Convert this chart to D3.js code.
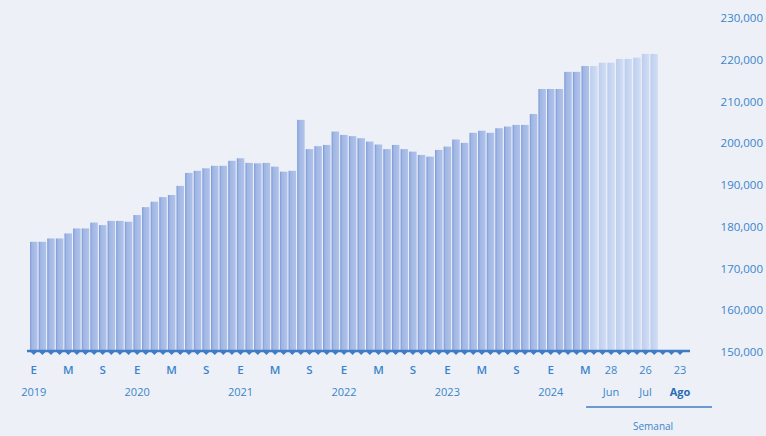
<!DOCTYPE html>
<html><head><meta charset="utf-8">
<script src="https://cdn.jsdelivr.net/npm/d3@7"></script>
<style>
html,body{margin:0;padding:0;background:#edf1f7;}
svg{display:block;font-family:"Open Sans",sans-serif;}
</style></head>
<body><svg id="c" width="766" height="436"></svg>
<script>
// Monthly series Jan 2019 - May 2024
const monthLabels = ["E","F","M","A","M","J","J","A","S","O","N","D"];
const years = [2019,2020,2021,2022,2023,2024];
const monthlyValues = [
 176400,176400,177200,177200,178400,179600,179600,181000,180400,181400,181400,181200,
 182800,184700,186000,187100,187600,189800,192900,193400,194000,194600,194600,195800,
 196400,195300,195200,195300,194400,193200,193400,205600,198600,199300,199600,202800,
 202000,201700,201200,200400,199700,198600,199600,198600,198000,197200,196800,198400,
 199200,200900,200100,202500,203000,202500,203600,204000,204400,204400,207000,213000,
 213000,213000,217100,217100,218500
];
// Weekly series (2024)
const weeks = ["14 Jun","21 Jun","28 Jun","5 Jul","12 Jul","19 Jul","26 Jul","2 Ago","9 Ago","16 Ago","23 Ago"];
const weeklyValues = [218500,219300,219300,220200,220200,220500,221400,221400,null,null,null];
const yTicks = [150000,160000,170000,180000,190000,200000,210000,220000,230000];
const monthTickLabels = ["E","M","S"];
const weekTickLabels = [{week:"28 Jun",day:"28",month:"Jun"},{week:"26 Jul",day:"26",month:"Jul"},{week:"23 Ago",day:"23",month:"Ago"}];

const monthCats = [];
years.forEach(y => monthLabels.forEach((m,i) => { if (monthCats.length < monthlyValues.length) monthCats.push({key:y+"-"+(i+1), label:m, year:y, mi:i}); }));
const data = monthCats.map((c,i)=>({key:c.key, value:monthlyValues[i], type:"m", cat:c}))
  .concat(weeks.map((w,i)=>({key:w, value:weeklyValues[i], type:"w"})));

const svg = d3.select("#c");
const x = d3.scaleBand().domain(data.map(d=>d.key)).range([29.5,684.3]).paddingInner(0.13).paddingOuter(0.06);
const y = d3.scaleLinear().domain([150000,230000]).range([352,18]);

const defs = svg.append("defs");
const g1 = defs.append("linearGradient").attr("id","gm").attr("x1","0").attr("x2","1").attr("y1","0").attr("y2","0");
g1.append("stop").attr("offset","0").attr("stop-color","#7897d6");
g1.append("stop").attr("offset","0.25").attr("stop-color","#a0b6e4");
g1.append("stop").attr("offset","1").attr("stop-color","#b0c3ea");
const g2 = defs.append("linearGradient").attr("id","gw").attr("x1","0").attr("x2","1").attr("y1","0").attr("y2","0");
g2.append("stop").attr("offset","0").attr("stop-color","#bccdee");
g2.append("stop").attr("offset","1").attr("stop-color","#d3def4");

svg.append("g").selectAll("rect").data(data.filter(d=>d.value!=null)).join("rect")
  .attr("x",d=>x(d.key)).attr("width",x.bandwidth())
  .attr("y",d=>y(d.value)).attr("height",d=>y(150000)-y(d.value)-1)
  .attr("fill",d=>d.type==="m"?"url(#gm)":"url(#gw)");

// axis
const axisG = svg.append("g").attr("transform","translate(0,351)");
axisG.append("line").attr("x1",27).attr("x2",690).attr("stroke","#3f7cc4").attr("stroke-width",2.5);
axisG.selectAll("path.tk").data(data).join("path").attr("class","tk")
  .attr("d",d=>{const cx=x(d.key)+x.bandwidth()/2; return `M${cx-3},1 L${cx},4 L${cx+3},1Z`;})
  .attr("fill","#3f7cc4");

const labColor="#3a84cc";
// month labels
svg.append("g").selectAll("text").data(data.filter(d=>d.type==="m" && monthTickLabels.includes(d.cat.label) && d.cat.mi%4===0)).join("text")
  .attr("x",d=>x(d.key)+x.bandwidth()/2).attr("y",374).attr("text-anchor","middle")
  .attr("font-size",11.5).attr("font-weight",600).attr("fill",labColor).text(d=>d.cat.label);
// year labels
svg.append("g").selectAll("text").data(data.filter(d=>d.type==="m" && d.cat.mi===0)).join("text")
  .attr("x",d=>x(d.key)+x.bandwidth()/2).attr("y",396).attr("text-anchor","middle")
  .attr("font-size",11).attr("fill",labColor).text(d=>d.cat.year);
// weekly labels
const wl = svg.append("g");
wl.selectAll("text.d").data(weekTickLabels).join("text").attr("class","d")
  .attr("x",d=>x(d.week)+x.bandwidth()/2).attr("y",374).attr("text-anchor","middle")
  .attr("font-size",11).attr("fill",labColor).text(d=>d.day);
wl.selectAll("text.m").data(weekTickLabels).join("text").attr("class","m")
  .attr("x",d=>x(d.week)+x.bandwidth()/2).attr("y",396).attr("text-anchor","middle")
  .attr("font-size",11).attr("fill",(d,i)=>i===2?"#2a6bb8":labColor).attr("font-weight",(d,i)=>i===2?"bold":"normal").text(d=>d.month);
wl.append("line").attr("x1",x(weeks[0])-4).attr("x2",712).attr("y1",407).attr("y2",407).attr("stroke","#3f7cc4").attr("stroke-width",1.5);
wl.append("text").attr("x",(x(weeks[0])+712)/2+2).attr("y",430).attr("text-anchor","middle").attr("font-size",10).attr("fill",labColor).text("Semanal");

// y labels (right)
svg.append("g").selectAll("text").data(yTicks).join("text")
  .attr("x",763).attr("y",d=>y(d)+4).attr("text-anchor","end")
  .attr("font-size",11.5).attr("fill",labColor).text(d=>d3.format(",")(d));
</script></body></html>
